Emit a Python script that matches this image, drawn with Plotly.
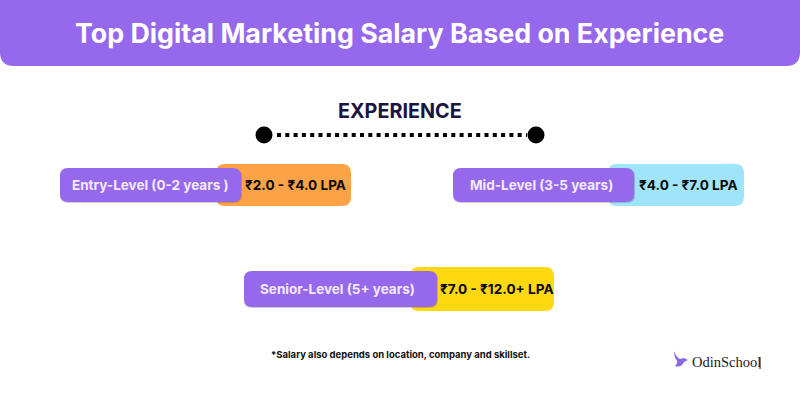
import plotly.graph_objects as go

title = "Top Digital Marketing Salary Based on Experience"
heading = "EXPERIENCE"
levels = ["Entry-Level (0-2 years )", "Mid-Level (3-5 years)", "Senior-Level (5+ years)"]
salaries = ["₹2.0 - ₹4.0 LPA", "₹4.0 - ₹7.0 LPA", "₹7.0 - ₹12.0+ LPA"]
salary_colors = ["#FBA346", "#A0E4FA", "#FFD90F"]
note = "*Salary also depends on location, company and skillset."
brand = "OdinSchool"

PURPLE = "#9568EC"
NAVY = "#1A1440"

# pixel boxes (x0, x1, y0, y1)
level_boxes = [(60, 241, 168, 202), (453, 634, 168, 202), (244, 437, 271, 307)]
salary_boxes = [(216, 351, 164, 206), (608, 744, 164, 206), (410, 554, 267, 311)]
level_text_x = [150, 541.5, 337]
salary_text_x = [295.5, 688.5, 497]


def rounded(x0, x1, y0, y1, r):
    return (f"M{x0+r},{y0} L{x1-r},{y0} Q{x1},{y0} {x1},{y0+r} L{x1},{y1-r} "
            f"Q{x1},{y1} {x1-r},{y1} L{x0+r},{y1} Q{x0},{y1} {x0},{y1-r} "
            f"L{x0},{y0+r} Q{x0},{y0} {x0+r},{y0} Z")


def add_box(fig, box, color, r):
    fig.add_shape(type="path", path=rounded(*box, r), fillcolor=color, line_width=0, layer="below")


fig = go.Figure()

# header band, square on top and rounded underneath
fig.add_shape(type="path", fillcolor=PURPLE, line_width=0, layer="below",
              path="M0,0 L800,0 L800,52 Q800,66 786,66 L14,66 Q0,66 0,52 Z")

for i in range(len(levels)):
    add_box(fig, salary_boxes[i], salary_colors[i], 9)
    x0, x1, y0, y1 = level_boxes[i]
    add_box(fig, (x0, x1 + 1, y0 + 1, y1 + 1), "rgba(70,50,110,0.25)", 8)
    add_box(fig, level_boxes[i], PURPLE, 8)
    fig.add_annotation(x=level_text_x[i], y=(y0 + y1) / 2, text=f"<b>{levels[i]}</b>",
                       font=dict(family="Inter", size=13.5, color="#F4EAFF"), showarrow=False)
    fig.add_annotation(x=salary_text_x[i], y=(y0 + y1) / 2, text=f"<b>{salaries[i]}</b>",
                       font=dict(family="Inter", size=13.6, color="#0A0A0A"), showarrow=False)

# timeline
fig.add_trace(go.Scatter(x=[277, 527], y=[135, 135], mode="lines",
                         line=dict(color="black", width=4, dash="4px,4.3px"), hoverinfo="skip"))
fig.add_trace(go.Scatter(x=[264, 536], y=[135, 135], mode="markers",
                         marker=dict(color="black", size=17), hoverinfo="skip"))

fig.add_annotation(x=399, y=33, text=f"<b>{title}</b>",
                   font=dict(family="Inter", size=26.8, color="white"), showarrow=False)
fig.add_annotation(x=400, y=111, text=f"<b>{heading}</b>",
                   font=dict(family="Inter", size=19.8, color=NAVY), showarrow=False)
fig.add_annotation(x=400, y=354, text=f"<b>{note}</b>",
                   font=dict(family="Inter", size=9.5, color="#111111"), showarrow=False)

# logo
fig.add_shape(type="path", fillcolor="#8A6AE0", line_width=0,
              path="M674,351 Q676,357 680,359 L684,358 L688,360 L684,362 Q681,368 675,366 "
                   "Q678,363 677,361 Q674,357 674,351 Z")
fig.add_annotation(x=690, y=362, text=brand, xanchor="left",
                   font=dict(family="Liberation Serif", size=14.5, color="#1A1A2A"), showarrow=False)
fig.add_shape(type="line", x0=760, x1=760, y0=357, y1=369, line=dict(color="#1A1A2A", width=1))

fig.update_xaxes(range=[0, 800], visible=False, fixedrange=True)
fig.update_yaxes(range=[400, 0], visible=False, fixedrange=True)
fig.update_layout(width=800, height=400, margin=dict(l=0, r=0, t=0, b=0),
                  showlegend=False, plot_bgcolor="white", paper_bgcolor="white")

# the page's default body margin would push the plot 8px in
fig.write_html("out.html", config={"displayModeBar": False},
               post_script="document.body.style.margin='0';")
